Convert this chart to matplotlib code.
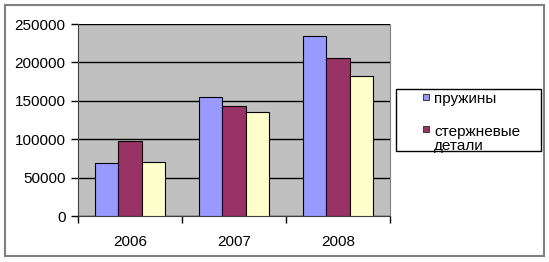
import matplotlib
matplotlib.use('Agg')
import matplotlib.pyplot as pyplot
import matplotlib.patches as patches
import numpy


YEARS = ['2006', '2007', '2008']
SERIES_NAMES = ['пружины', 'стержневые\nдетали', 'прочие']
SPRINGS = [69000, 155500, 234500]
CORE_PARTS = [97500, 143500, 205500]
OTHER = [70000, 136000, 182500]
Y_TICKS = [0, 50000, 100000, 150000, 200000, 250000]

COLOURS = ['#9999FF', '#993366', '#FFFFCC']
FONT = 'Liberation Sans'


def draw_bars(axes):
    positions = numpy.arange(len(YEARS))
    bar_width = 1 / 4.5
    for index, values in enumerate([SPRINGS, CORE_PARTS, OTHER]):
        axes.bar(positions + (index - 1) * bar_width, values, bar_width,
                 color=COLOURS[index], edgecolor='black', linewidth=0.8,
                 zorder=3)


def configure_axes(axes):
    axes.set_facecolor('#C0C0C0')
    axes.set_xlim(-0.5, len(YEARS) - 0.5)
    axes.set_ylim(Y_TICKS[0], Y_TICKS[-1])
    axes.set_yticks(Y_TICKS)
    axes.set_yticklabels([str(tick) for tick in Y_TICKS],
                         fontsize=11, family=FONT)
    axes.set_xticks(numpy.arange(len(YEARS)))
    axes.set_xticklabels(YEARS, fontsize=11, family=FONT)
    axes.set_xticks(numpy.arange(len(YEARS) + 1) - 0.5, minor=True)
    axes.tick_params(axis='x', which='major', length=0, pad=14)
    axes.tick_params(axis='x', which='minor', length=5, width=1,
                     direction='out')
    axes.tick_params(axis='y', which='major', length=5, width=1, pad=4)
    axes.grid(axis='y', color='black', linewidth=1, zorder=1)
    axes.spines['top'].set_visible(False)
    axes.spines['right'].set_color('#808080')
    axes.spines['left'].set_color('#404040')
    axes.spines['bottom'].set_color('#404040')


def draw_legend(figure):
    width, height = figure.get_size_inches() * figure.dpi

    def fx(x):
        return x / width

    def fy(y):
        return 1 - y / height

    figure.patches.append(patches.Rectangle(
        (fx(396), fy(151)), fx(145), 62 / height, transform=figure.transFigure,
        facecolor='white', edgecolor='black', linewidth=1, zorder=5))
    rows = [(97, 99), (129, 139)]
    for index, (marker_y, text_y) in enumerate(rows):
        figure.patches.append(patches.Rectangle(
            (fx(423), fy(marker_y + 3)), fx(6), 6 / height,
            transform=figure.transFigure, facecolor=COLOURS[index],
            edgecolor='#404040', linewidth=0.8, zorder=6))
        figure.text(fx(434), fy(text_y), SERIES_NAMES[index], fontsize=11,
                    family=FONT, va='center', ha='left', linespacing=1.0,
                    zorder=7)


def main():
    figure = pyplot.figure(figsize=(5.49, 2.62), dpi=100)
    figure.patch.set_facecolor('white')
    figure.patches.append(patches.Rectangle(
        (5 / 549, 6 / 262), 539 / 549, 251 / 262,
        transform=figure.transFigure, facecolor='none',
        edgecolor='#808080', linewidth=1.5))
    axes = figure.add_axes([78 / 549, 46 / 262, 312 / 549, 192 / 262])
    draw_bars(axes)
    configure_axes(axes)
    draw_legend(figure)
    pyplot.savefig('out.png', dpi=100)


main()
